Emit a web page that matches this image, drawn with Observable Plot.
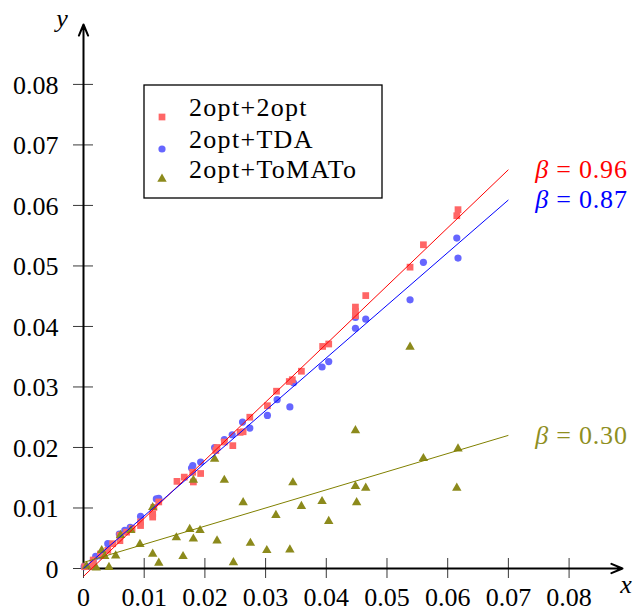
<!DOCTYPE html>
<html><head><meta charset="utf-8">
<script src="https://cdn.jsdelivr.net/npm/d3@7"></script>
<script src="https://cdn.jsdelivr.net/npm/@observablehq/plot@0.6"></script>
<style>body{margin:0;background:#fff} svg{display:block}</style>
</head><body><div id="chart"></div>
<script>
// Tick values and labels
const xTicks = [0, 0.01, 0.02, 0.03, 0.04, 0.05, 0.06, 0.07, 0.08];
const xTickLabels = ["0", "0.01", "0.02", "0.03", "0.04", "0.05", "0.06", "0.07", "0.08"];
const yTicks = [0, 0.01, 0.02, 0.03, 0.04, 0.05, 0.06, 0.07, 0.08];
const yTickLabels = ["0", "0.01", "0.02", "0.03", "0.04", "0.05", "0.06", "0.07", "0.08"];
const xMax = 0.0888, yMax = 0.0899;

// Series: 2opt+2opt (red squares)
const twoOptX = [0.0002,0.0014,0.0016,0.0028,0.0040,0.0048,0.0060,0.0060,0.0071,0.0080,0.0094,0.0094,0.0114,0.0114,0.0116,0.0124,0.0154,0.0166,0.0180,0.0181,0.0193,0.0218,0.0220,0.0232,0.0246,0.0258,0.0263,0.0274,0.0303,0.0318,0.0339,0.0344,0.0359,0.0394,0.0404,0.0448,0.0448,0.0448,0.0465,0.0538,0.0560,0.0615,0.0617];
const twoOptY = [0.0003,0.0004,0.0014,0.0024,0.0030,0.0041,0.0046,0.0055,0.0060,0.0066,0.0077,0.0071,0.0090,0.0085,0.0101,0.0110,0.0144,0.0151,0.0159,0.0143,0.0157,0.0195,0.0200,0.0209,0.0203,0.0225,0.0226,0.0250,0.0269,0.0293,0.0309,0.0312,0.0326,0.0367,0.0371,0.0432,0.0425,0.0418,0.0451,0.0498,0.0535,0.0583,0.0593];
// Series: 2opt+TDA (blue circles)
const tdaX = [0.0001,0.0016,0.0020,0.0027,0.0040,0.0059,0.0068,0.0077,0.0094,0.0120,0.0124,0.0178,0.0180,0.0193,0.0216,0.0232,0.0245,0.0262,0.0274,0.0303,0.0319,0.0340,0.0346,0.0393,0.0404,0.0448,0.0448,0.0465,0.0538,0.0560,0.0615,0.0617];
const tdaY = [0.0003,0.0013,0.0020,0.0021,0.0041,0.0057,0.0063,0.0068,0.0086,0.0115,0.0116,0.0166,0.0170,0.0176,0.0200,0.0213,0.0221,0.0242,0.0232,0.0253,0.0279,0.0267,0.0307,0.0333,0.0342,0.0397,0.0415,0.0412,0.0444,0.0506,0.0546,0.0513];
// Series: 2opt+ToMATo (olive triangles)
const tomatoX = [0.0005,0.0021,0.0042,0.0030,0.0035,0.0053,0.0061,0.0078,0.0093,0.0114,0.0114,0.0124,0.0153,0.0164,0.0175,0.0181,0.0181,0.0192,0.0216,0.0220,0.0232,0.0247,0.0263,0.0275,0.0302,0.0317,0.0340,0.0345,0.0359,0.0393,0.0404,0.0448,0.0448,0.0450,0.0465,0.0538,0.0560,0.0617,0.0615];
const tomatoY = [0.0004,0.0001,0.0002,0.0030,0.0020,0.0021,0.0055,0.0063,0.0040,0.0101,0.0024,0.0009,0.0051,0.0020,0.0065,0.0049,0.0146,0.0063,0.0181,0.0046,0.0146,0.0010,0.0109,0.0042,0.0030,0.0088,0.0031,0.0142,0.0103,0.0111,0.0078,0.0228,0.0136,0.0109,0.0133,0.0366,0.0182,0.0198,0.0133];

// Fitted lines
const fitNames = ["2opt+2opt", "2opt+TDA", "2opt+ToMATo"];
const fitBetas = [0.96, 0.87, 0.30];
const fitIntercepts = [-0.0013, 0, 0.001];
const fitColors = ["#ff0000", "#0000ff", "#808000"];
const fitLabelColors = ["#ff0000", "#0000ff", "#8f8f1f"];
const fitXStart = 0, fitXEnd = 0.07, fitLabelX = 0.0745;

const zip = (xs, ys) => xs.map((x, i) => ({x, y: ys[i]}));
const twoOpt = zip(twoOptX, twoOptY);
const tda = zip(tdaX, tdaY);
const tomato = zip(tomatoX, tomatoY);
const fits = fitBetas.map((b, i) => ({beta: b, c: fitIntercepts[i], color: fitColors[i], labelColor: fitLabelColors[i]}));

const FONT = "'Liberation Serif', 'Times New Roman', serif";

const plot = Plot.plot({
  width: 636, height: 612,
  marginLeft: 83, marginRight: 14, marginTop: 24, marginBottom: 44,
  x: {domain: [0, xMax], axis: null},
  y: {domain: [0, yMax], axis: null},
  style: {fontFamily: FONT, background: "#fff", overflow: "visible"},
  marks: [
    // ticks crossing the axes
    Plot.ruleX(xTicks, {x: d => d, y1: 0, y2: 0, insetTop: 10, insetBottom: 10, stroke: "#222", strokeWidth: 0.9}),
    Plot.ruleY(yTicks, {y: d => d, x1: 0, x2: 0, insetLeft: 10, insetRight: 10, stroke: "#222", strokeWidth: 0.9}),
    // axes with arrows
    Plot.arrow([0], {x1: 0, y1: 0, x2: xMax, y2: 0, stroke: "#000", strokeWidth: 2, headLength: 9, headAngle: 45}),
    Plot.arrow([0], {x1: 0, y1: 0, x2: 0, y2: yMax, stroke: "#000", strokeWidth: 2, headLength: 9, headAngle: 45}),
    // tick labels
    Plot.text(xTicks, {x: d => d, y: 0, text: (d, i) => xTickLabels[i], dy: 29, fontSize: 26, fill: "#000"}),
    Plot.text(yTicks, {x: 0, y: d => d, text: (d, i) => yTickLabels[i], dx: -25, dy: 1, textAnchor: "end", fontSize: 26, fill: "#000"}),
    // data
    Plot.dot(tda, {x: "x", y: "y", symbol: "circle", r: 3.6, fill: "#6666ff", stroke: "none"}),
    Plot.dot(twoOpt, {x: "x", y: "y", symbol: "square", r: 3.8, fill: "#ff6666", stroke: "none"}),
    Plot.dot(tomato, {x: "x", y: "y", symbol: "triangle", r: 3.5, fill: "#8c8a1c", stroke: "none"}),
    // fitted lines
    ...fits.map(f => Plot.link([f], {
      x1: fitXStart, x2: fitXEnd,
      y1: d => d.beta * fitXStart + d.c, y2: d => d.beta * fitXEnd + d.c,
      stroke: f.color, strokeWidth: 1
    }))
  ]
});

document.getElementById("chart").appendChild(plot);
const svg = d3.select(plot);
const sx = plot.scale("x"), sy = plot.scale("y");

// beta labels
fits.forEach(f => {
  const t = svg.append("text")
    .attr("x", sx.apply(fitLabelX))
    .attr("y", sy.apply(f.beta * fitXEnd + f.c))
    .attr("dy", "0.34em")
    .attr("text-anchor", "start")
    .attr("font-family", FONT).attr("font-size", 26)
    .attr("fill", f.labelColor)
    .attr("letter-spacing", 0.8)
    .attr("xml:space", "preserve");
  t.append("tspan").attr("font-style", "italic").text("β");
  t.append("tspan").text(" = " + f.beta.toFixed(2));
});

// axis names
svg.append("text").attr("x", 626).attr("y", 593).attr("text-anchor", "middle")
  .attr("font-family", FONT).attr("font-style", "italic").attr("font-size", 26).text("x");
svg.append("text").attr("x", 62).attr("y", 27).attr("text-anchor", "middle")
  .attr("font-family", FONT).attr("font-style", "italic").attr("font-size", 26).text("y");

// legend
const lg = svg.append("g");
lg.append("rect").attr("x", 144).attr("y", 85).attr("width", 238).attr("height", 113)
  .attr("fill", "#fff").attr("stroke", "#000").attr("stroke-width", 1.3);
const legendSymbols = [d3.symbolSquare, d3.symbolCircle, d3.symbolTriangle];
const legendFills = ["#ff6666", "#6666ff", "#8c8a1c"];
const legendSizes = [Math.PI * 3.8 * 3.8, Math.PI * 3.6 * 3.6, Math.PI * 3.5 * 3.5];
const legendRows = [117, 149, 179];
fitNames.forEach((name, i) => {
  lg.append("path").attr("transform", `translate(162,${legendRows[i]})`)
    .attr("d", d3.symbol(legendSymbols[i], legendSizes[i])()).attr("fill", legendFills[i]);
  lg.append("text").attr("x", 189).attr("y", legendRows[i] - 1)
    .attr("text-anchor", "start")
    .attr("font-family", FONT).attr("font-size", 26).attr("letter-spacing", 1.3)
    .text(name);
});
</script>
</body></html>
